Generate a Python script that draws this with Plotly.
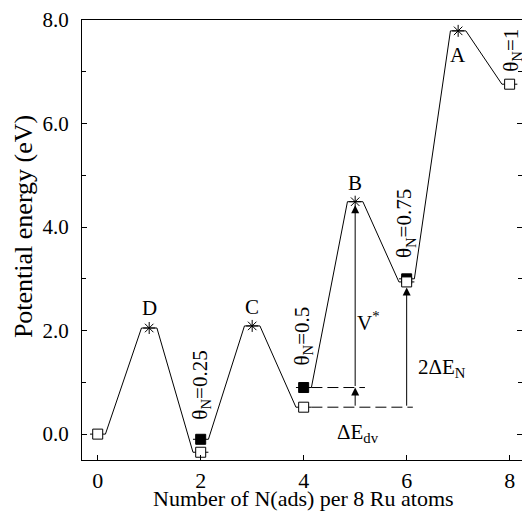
import plotly.graph_objects as go

# ---- data ----
min_x = [0, 2, 4, 6, 8]                      # coverage steps (N per 8 Ru)
e_open = [0.00, -0.35, 0.52, 2.94, 6.76]      # open squares
filled_x = [2, 4, 6]
e_filled = [-0.10, 0.90, 3.00]                # filled squares
ts_x = [1, 3, 5, 7]
e_ts = [2.05, 2.09, 4.49, 7.79]               # transition states (asterisks)
ts_labels = ["D", "C", "B", "A"]
theta_labels = ["θ<sub>N</sub>=0.25", "θ<sub>N</sub>=0.5", "θ<sub>N</sub>=0.75", "θ<sub>N</sub>=1"]
theta_pos_x = [2.0, 3.99, 5.97, 8.04]
theta_pos_y = [0.95, 1.89, 4.06, 7.42]
x_ticks = [0, 2, 4, 6, 8]
y_ticks = [0, 2, 4, 6, 8]

# start level of each rising leg and end level of each falling leg
start_e = [e_open[0], e_filled[0], e_filled[1], e_filled[2]]
end_e = [e_open[1], e_open[2], e_open[3], e_open[4]]

W = 0.15  # half width of level plateaus
FONT = "'Liberation Serif', 'Times New Roman', Times, serif"

px_, py_ = [], []
for i in range(4):
    xs = min_x[i]
    xe = min_x[i + 1]
    px_ += [xs + W, ts_x[i] - W, ts_x[i] + W, xe - W, None]
    py_ += [start_e[i], e_ts[i], e_ts[i], end_e[i], None]
# level stubs through squares
for x, e in list(zip(min_x, e_open)) + list(zip(filled_x, e_filled)):
    px_ += [x - W, x + W, None]
    py_ += [e, e, None]

fig = go.Figure()
fig.add_trace(go.Scatter(x=px_, y=py_, mode="lines",
                         line=dict(color="black", width=1), hoverinfo="skip"))

# dashed reference lines at x=4 levels
fig.add_trace(go.Scatter(x=[min_x[2] + W, 5.19], y=[e_filled[1], e_filled[1]], mode="lines",
                         line=dict(color="black", width=1, dash="11px,5px")))
fig.add_trace(go.Scatter(x=[min_x[2] + W, 6.12], y=[e_open[2], e_open[2]], mode="lines",
                         line=dict(color="black", width=1, dash="11px,5px")))

fig.add_trace(go.Scatter(x=filled_x, y=e_filled, mode="markers",
                         marker=dict(symbol="square", size=10, color="black",
                                     line=dict(color="black", width=1))))
fig.add_trace(go.Scatter(x=min_x, y=e_open, mode="markers",
                         marker=dict(symbol="square", size=10, color="white",
                                     line=dict(color="black", width=1))))
fig.add_trace(go.Scatter(x=ts_x, y=e_ts, mode="markers",
                         marker=dict(symbol="asterisk-open", size=10, color="black",
                                     line=dict(color="black", width=1))))

ann = []
lab_y = [2.43, 2.46, 4.85, 7.33]
for x, y, t in zip(ts_x, lab_y, ts_labels):
    ann.append(dict(x=x, y=y, text=t, showarrow=False, xref="x", yref="y",
                    font=dict(family=FONT, size=21, color="black")))
for x, y, t in zip(theta_pos_x, theta_pos_y, theta_labels):
    ann.append(dict(x=x, y=y, text=t, showarrow=False, textangle=-90,
                    xanchor="center", yanchor="middle",
                    font=dict(family=FONT, size=21, color="black")))

# arrows
arrow_common = dict(showarrow=True, text="", xref="x", yref="y", axref="x", ayref="y",
                    arrowhead=2, arrowsize=1.6, arrowwidth=1, arrowcolor="black")
ann.append(dict(x=5, y=e_filled[1], ax=5, ay=e_open[2], **arrow_common))
ann.append(dict(x=5, y=e_ts[2] - 0.07, ax=5, ay=e_filled[1], **arrow_common))
ann.append(dict(x=6, y=e_open[3] - 0.11, ax=6, ay=e_open[2], **arrow_common))

ann.append(dict(x=5.25, y=2.17, text="V<sup>*</sup>", showarrow=False,
                font=dict(family=FONT, size=21, color="black")))
ann.append(dict(x=6.68, y=1.27, text="2ΔE<sub>N</sub>", showarrow=False,
                font=dict(family=FONT, size=21, color="black")))
ann.append(dict(x=5.05, y=0.02, text="ΔE<sub>dv</sub>", showarrow=False,
                font=dict(family=FONT, size=21, color="black")))

# axis titles
ann.append(dict(x=4.0, y=-0.0864, xref="x", yref="paper", text="Number of N(ads) per 8 Ru atoms",
                showarrow=False, yanchor="middle",
                font=dict(family=FONT, size=22, color="black")))
ann.append(dict(x=-0.134, y=4.0, xref="paper", yref="y", text="Potential energy (eV)",
                showarrow=False, textangle=-90, xanchor="center", yanchor="middle",
                font=dict(family=FONT, size=26, color="black")))

fig.update_layout(
    width=522, height=519,
    margin=dict(l=82, r=0, t=20, b=59),
    paper_bgcolor="white", plot_bgcolor="white",
    showlegend=False,
    annotations=ann,
    font=dict(family=FONT, color="black"),
)
fig.update_xaxes(range=[-0.305, 8.24], tickvals=x_ticks, ticktext=[str(v) for v in x_ticks],
                 ticks="inside", ticklen=5, tickcolor="black",
                 showline=True, linecolor="black", linewidth=1.2, mirror=True,
                 showgrid=False, zeroline=False,
                 tickfont=dict(family=FONT, size=22, color="black"))
fig.update_yaxes(range=[-0.5, 8.0], tickvals=y_ticks, ticktext=[f"{v:.1f}" for v in y_ticks],
                 ticks="inside", ticklen=5, tickcolor="black",
                 minor=dict(tickvals=[1, 3, 5, 7], ticks="inside", ticklen=4, tickcolor="black"),
                 showline=True, linecolor="black", linewidth=1.2, mirror="ticks",
                 showgrid=False, zeroline=False,
                 tickfont=dict(family=FONT, size=21, color="black"),
                 ticklabelstandoff=8)

fig.write_html("out.html", config={"displayModeBar": False},
               post_script="document.body.style.margin='0';")
